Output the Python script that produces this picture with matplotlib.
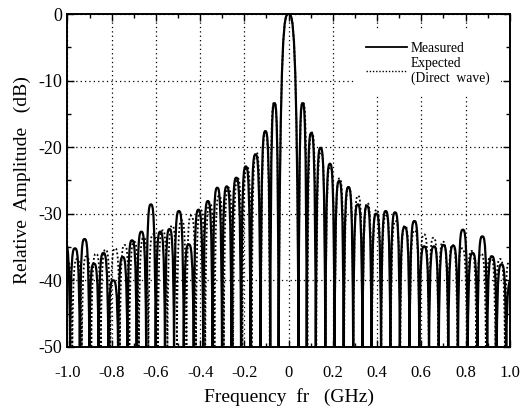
import matplotlib
matplotlib.use("Agg")
import matplotlib.pyplot as plt
from matplotlib.path import Path
from matplotlib.patches import PathPatch
from matplotlib.lines import Line2D
from matplotlib.ticker import MultipleLocator, FixedLocator, FixedFormatter

plt.rcParams['font.family'] = ['Liberation Serif', 'DejaVu Serif']
plt.rcParams['axes.unicode_minus'] = False

# measured: nulls (GHz) bounding each lobe, and the peak of each lobe (dB)
meas_nulls = [-1.03, -0.988, -0.944, -0.901, -0.859, -0.815, -0.771, -0.729,
              -0.687, -0.644, -0.601, -0.559, -0.518, -0.474, -0.429, -0.386,
              -0.344, -0.301, -0.258, -0.215, -0.172, -0.127, -0.083, -0.045,
              0.045, 0.082, 0.123, 0.166, 0.208, 0.249, 0.292, 0.334,
              0.375, 0.418, 0.460, 0.503, 0.547, 0.591, 0.635, 0.679,
              0.722, 0.766, 0.810, 0.854, 0.898, 0.941, 0.984, 1.03]
meas_peaks = [-34.5, -35.2, -33.8, -37.5, -35.9, -40.0, -36.5, -34.0,
              -32.7, -28.6, -32.7, -32.3, -29.6, -34.6, -29.4, -28.1,
              -26.1, -25.9, -24.6, -22.9, -21.1, -17.6, -13.4,
              0.0,
              -13.4, -17.9, -20.1, -22.5, -25.1, -26.0, -28.6, -28.8,
              -30.0, -29.6, -29.8, -32.0, -31.1, -34.9, -34.9, -34.7,
              -34.8, -32.4, -35.9, -33.4, -36.4, -37.6, -40.0]

# expected (direct wave)
exp_nulls = [-1.02, -0.978, -0.935, -0.892, -0.849, -0.806, -0.763, -0.720,
             -0.677, -0.634, -0.591, -0.548, -0.505, -0.462, -0.419, -0.377,
             -0.335, -0.293, -0.251, -0.209, -0.167, -0.125, -0.085, -0.045,
             0.045, 0.085, 0.125, 0.167, 0.209, 0.251, 0.293, 0.335,
             0.377, 0.419, 0.462, 0.505, 0.548, 0.591, 0.634, 0.677,
             0.720, 0.763, 0.806, 0.849, 0.892, 0.935, 0.978, 1.02]
exp_peaks = [-37.2, -36.8, -36.4, -36.0, -35.4, -35.2, -34.7, -34.2,
             -33.6, -33.1, -32.5, -31.8, -31.0, -30.3, -29.4, -28.4,
             -27.3, -26.1, -24.7, -23.0, -20.8, -17.8, -13.3,
             0.0,
             -13.3, -17.8, -20.8, -23.0, -24.7, -26.1, -27.3, -28.4,
             -29.4, -30.3, -31.1, -31.8, -32.5, -33.1, -33.6, -34.2,
             -34.7, -35.2, -35.6, -36.0, -36.4, -36.8, -37.2]

x_ticks = [-1.0, -0.8, -0.6, -0.4, -0.2, 0, 0.2, 0.4, 0.6, 0.8, 1.0]
x_labels = ['-1.0', '-0.8', '-0.6', '-0.4', '-0.2', '0', '0.2', '0.4', '0.6', '0.8', '1.0']
y_ticks = [-50, -40, -30, -20, -10, 0]

FLOOR = -50.5
DOT = (0, (1, 1.3))


def lobe_path(nulls, peaks):
    verts = [(nulls[0], FLOOR)]
    codes = [Path.MOVETO]
    for i, p in enumerate(peaks):
        a, b = nulls[i], nulls[i + 1]
        w = b - a
        m = a + w / 2
        verts += [(a + 0.08 * w, p), (m - 0.22 * w, p), (m, p),
                  (m + 0.22 * w, p), (b - 0.08 * w, p), (b, FLOOR)]
        codes += [Path.CURVE4] * 6
    return Path(verts, codes)


fig = plt.figure(figsize=(5.31, 4.13), dpi=100)
ax = fig.add_axes([0.127, 0.160, 0.833, 0.806])

ax.add_patch(PathPatch(lobe_path(exp_nulls, exp_peaks), fill=False,
                       edgecolor='black', lw=1.3, linestyle=DOT))
ax.add_patch(PathPatch(lobe_path(meas_nulls, meas_peaks), fill=False,
                       edgecolor='black', lw=1.6))

ax.set_xlim(-1.0, 1.0)
ax.set_ylim(-50, 0)
ax.xaxis.set_major_locator(FixedLocator(x_ticks))
ax.xaxis.set_major_formatter(FixedFormatter(x_labels))
ax.xaxis.set_minor_locator(MultipleLocator(0.1))
ax.yaxis.set_major_locator(FixedLocator(y_ticks))
ax.yaxis.set_minor_locator(MultipleLocator(5))
ax.tick_params(which='both', direction='in', top=True, right=True)
ax.tick_params(which='major', length=5, width=1)
ax.tick_params(which='minor', length=3, width=1)
ax.tick_params(axis='x', pad=13, labelsize=12)
ax.tick_params(axis='y', pad=4, labelsize=13)
ax.grid(True, which='major', linestyle=(0, (1, 2.5)), color='black', lw=0.9)
ax.set_axisbelow(True)
for s in ax.spines.values():
    s.set_linewidth(1.4)

ax.set_xlabel('Frequency  fr   (GHz)', fontsize=14, labelpad=5)
ax.set_ylabel('Relative  Amplitude   (dB)', fontsize=14, labelpad=5)

handles = [Line2D([], [], color='black', lw=1.3),
           Line2D([], [], color='black', lw=1.0, linestyle=DOT)]
leg = ax.legend(handles, ['Measured', 'Expected\n(Direct  wave)'],
                loc='upper right', bbox_to_anchor=(0.995, 0.97),
                fontsize=9.8, frameon=True, framealpha=1, edgecolor='none',
                handlelength=3.0, handletextpad=0.3, labelspacing=0.15,
                fancybox=False, borderpad=0.8)
leg.get_frame().set_facecolor('white')

fig.savefig('out.png', dpi=100)
